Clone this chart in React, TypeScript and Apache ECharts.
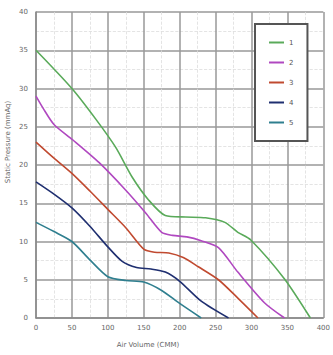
import React, { useEffect, useRef } from "react";
import * as echarts from "echarts";

const seriesNames = ["1", "2", "3", "4", "5"];
const colors = ["#5aaa5a", "#b048c0", "#c04a30", "#1f2f70", "#2f7f8f"];

const greenPts: [number, number][] = [
  [0, 35], [50, 30], [84, 25.9], [111, 22.3], [134, 18.4], [157, 15.4], [180, 13.4],
  [208, 13.2], [236, 13.1], [263, 12.5], [281, 11.2], [299, 10.2], [346, 5.1], [382, 0],
];
const magentaPts: [number, number][] = [
  [0, 29], [10, 27.4], [25, 25.3], [51, 23.3], [88, 20.3], [125, 16.7], [153, 13.7],
  [175, 11.2], [190, 10.8], [210, 10.6], [230, 10.1], [254, 9.2], [281, 6], [318, 2], [346, 0],
];
const redPts: [number, number][] = [
  [0, 23], [25, 20.9], [50, 18.9], [75, 16.6], [100, 14.2], [125, 11.8], [150, 9],
  [165, 8.6], [185, 8.5], [205, 7.9], [226, 6.7], [254, 5], [281, 2.6], [309, 0],
];
const navyPts: [number, number][] = [
  [0, 17.8], [25, 16.2], [50, 14.4], [75, 12], [100, 9.3], [120, 7.4], [140, 6.6],
  [160, 6.4], [180, 6], [200, 4.8], [230, 2.2], [268, 0],
];
const tealPts: [number, number][] = [
  [0, 12.5], [25, 11.3], [50, 10], [75, 7.6], [100, 5.4], [125, 4.9], [150, 4.7],
  [175, 3.6], [200, 1.9], [230, 0],
];
const allData = [greenPts, magentaPts, redPts, navyPts, tealPts];

const xTitle = "Air Volume (CMM)";
const yTitle = "Static Pressure (mmAq)";

export default function App() {
  const ref = useRef<HTMLDivElement>(null);
  useEffect(() => {
    if (!ref.current) return;
    const chart = echarts.init(ref.current, undefined, { renderer: "svg" });
    const axisLabel = { color: "#666", fontSize: 7, fontFamily: "DejaVu Sans" };
    chart.setOption({
      animation: false,
      backgroundColor: "#fff",
      grid: { left: 36, right: 7, top: 12, bottom: 37 },
      xAxis: {
        type: "value",
        min: 0,
        max: 400,
        interval: 50,
        axisLine: { show: true, lineStyle: { color: "#888", width: 1.5 } },
        axisTick: { show: false },
        axisLabel: { ...axisLabel, margin: 6 },
        splitLine: { show: true, lineStyle: { color: "#999", width: 1.5 } },
        minorTick: { show: false, splitNumber: 2 },
        minorSplitLine: { show: true, lineStyle: { color: "#ddd", type: "dashed", width: 0.8 } },
      },
      yAxis: {
        type: "value",
        min: 0,
        max: 40,
        interval: 5,
        axisLine: { show: true, lineStyle: { color: "#888", width: 1.5 } },
        axisTick: { show: false },
        axisLabel: { ...axisLabel, margin: 8 },
        splitLine: { show: true, lineStyle: { color: "#999", width: 1.5 } },
        minorTick: { show: false, splitNumber: 2 },
        minorSplitLine: { show: true, lineStyle: { color: "#ddd", type: "dashed", width: 0.8 } },
      },
      legend: {
        orient: "vertical",
        left: 255,
        top: 24,
        itemWidth: 15,
        itemHeight: 8,
        itemGap: 13,
        padding: [15, 14, 15, 13],
        borderColor: "#555",
        borderWidth: 2,
        backgroundColor: "#fff",
        itemStyle: { opacity: 0 },
        textStyle: { color: "#555", fontSize: 7, fontFamily: "DejaVu Sans" },
        data: seriesNames,
      },
      series: seriesNames.map((name, i) => ({
        name,
        type: "line",
        data: allData[i],
        symbol: "none",
        smooth: 0.25,
        lineStyle: { color: colors[i], width: 1.6 },
        itemStyle: { color: colors[i] },
      })),
      graphic: [
        {
          type: "text",
          x: 148,
          y: 345,
          style: {
            text: xTitle,
            fill: "#666",
            fontSize: 7,
            fontFamily: "DejaVu Sans",
            align: "center",
            verticalAlign: "middle",
          },
        },
        {
          type: "text",
          x: 8,
          y: 142,
          rotation: Math.PI / 2,
          style: {
            text: yTitle,
            fill: "#666",
            fontSize: 7,
            fontFamily: "DejaVu Sans",
            align: "center",
            verticalAlign: "middle",
          },
        },
      ],
    });
    return () => chart.dispose();
  }, []);
  return <div ref={ref} style={{ width: 333, height: 355, position: "absolute", left: 0, top: 0 }} />;
}
